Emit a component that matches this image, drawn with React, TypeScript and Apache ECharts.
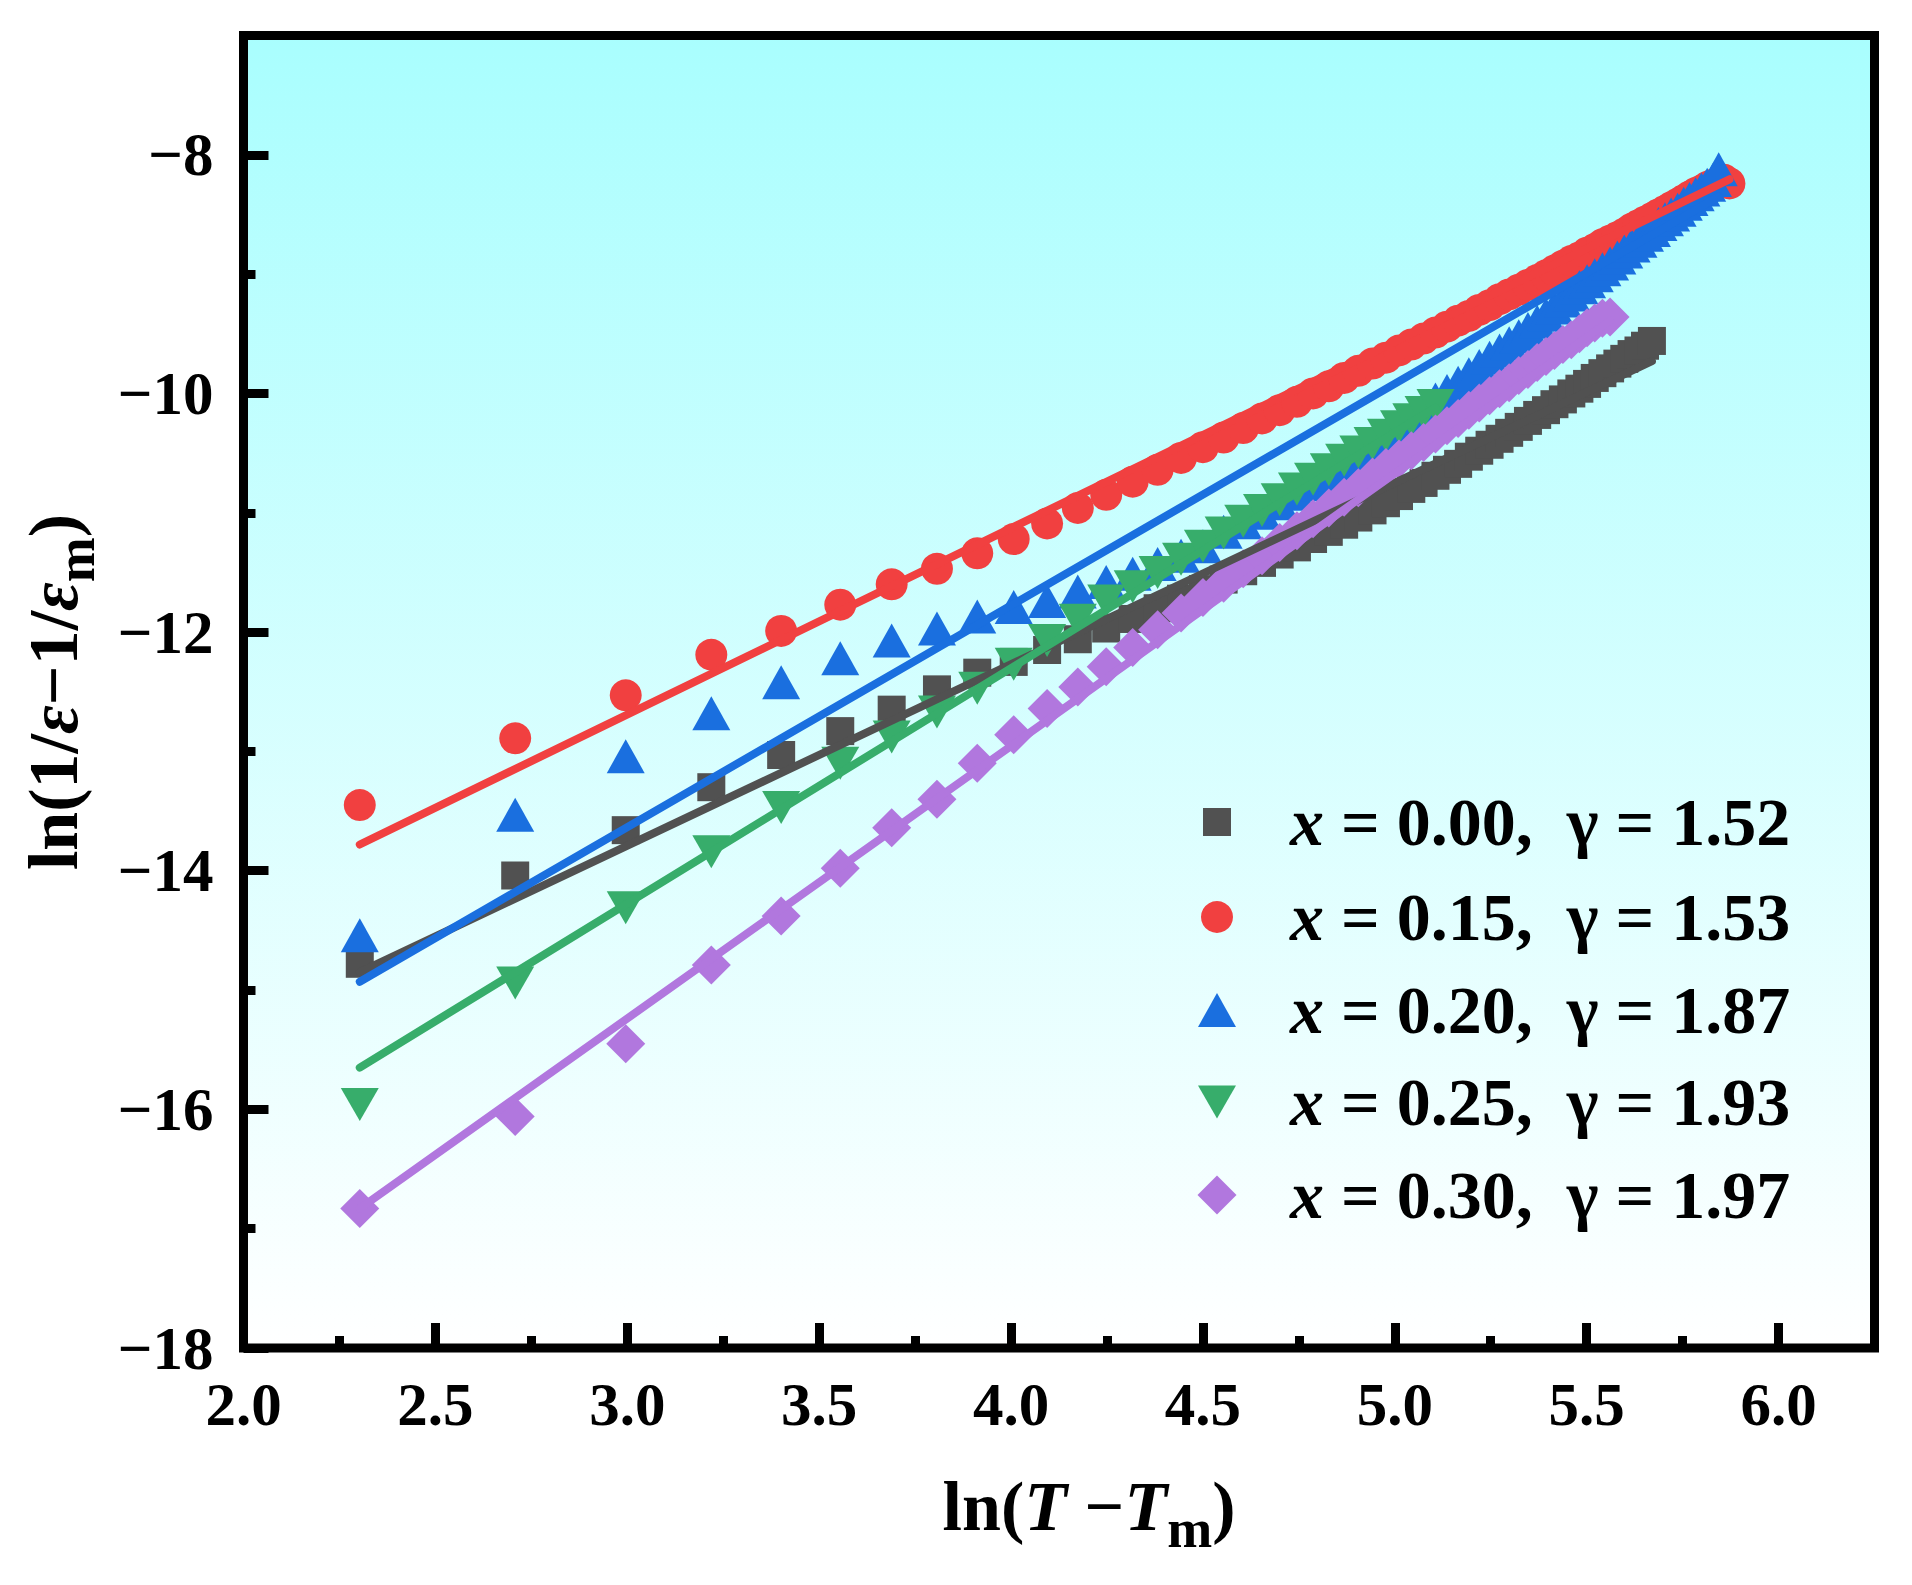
import { useEffect, useRef } from 'react';
import * as echarts from 'echarts';

// ln(T - Tm) for T - Tm = 10, 15, 20 ... 355 K
const lnDT = [
  2.303, 2.708, 2.996, 3.219, 3.401, 3.555, 3.689, 3.807, 3.912, 4.007,
  4.094, 4.174, 4.248, 4.317, 4.382, 4.443, 4.500, 4.554, 4.605, 4.654,
  4.700, 4.745, 4.787, 4.828, 4.868, 4.905, 4.942, 4.977, 5.011, 5.043,
  5.075, 5.106, 5.136, 5.165, 5.193, 5.220, 5.247, 5.273, 5.298, 5.323,
  5.347, 5.371, 5.394, 5.416, 5.438, 5.460, 5.481, 5.501, 5.521, 5.541,
  5.561, 5.580, 5.598, 5.617, 5.635, 5.652, 5.670, 5.687, 5.704, 5.720,
  5.737, 5.753, 5.768, 5.784, 5.799, 5.814, 5.829, 5.844, 5.858, 5.872,
];

const yX000 = [
  -14.78, -14.04, -13.66, -13.30, -13.03, -12.83, -12.65, -12.48, -12.34, -12.25,
  -12.15, -12.06, -11.97, -11.89, -11.80, -11.72, -11.64, -11.56, -11.49, -11.42,
  -11.35, -11.29, -11.22, -11.16, -11.10, -11.04, -10.98, -10.92, -10.86, -10.80,
  -10.75, -10.69, -10.64, -10.59, -10.53, -10.48, -10.43, -10.38, -10.33, -10.28,
  -10.23, -10.18, -10.14, -10.09, -10.05, -10.00, -9.96, -9.92, -9.87, -9.83,
  -9.79, -9.75, -9.71, -9.67, -9.64, -9.60, -9.56,
];

const yX015 = [
  -13.45, -12.89, -12.53, -12.19, -11.99, -11.77, -11.60, -11.47, -11.34, -11.22,
  -11.09, -10.96, -10.85, -10.74, -10.64, -10.54, -10.45, -10.37, -10.29, -10.21,
  -10.14, -10.07, -10.00, -9.94, -9.87, -9.81, -9.75, -9.70, -9.64, -9.59,
  -9.54, -9.49, -9.44, -9.39, -9.35, -9.30, -9.26, -9.21, -9.17, -9.13,
  -9.09, -9.05, -9.01, -8.97, -8.93, -8.89, -8.86, -8.82, -8.79, -8.75,
  -8.72, -8.69, -8.66, -8.62, -8.59, -8.56, -8.53, -8.50, -8.47, -8.44,
  -8.41, -8.38, -8.35, -8.32, -8.30, -8.27, -8.25, -8.23, -8.21, -8.24,
];

const yX020 = [
  -14.54, -13.53, -13.04, -12.68, -12.42, -12.22, -12.07, -11.97, -11.87, -11.79,
  -11.74, -11.66, -11.58, -11.51, -11.43, -11.36, -11.28, -11.16, -11.08, -11.00,
  -10.92, -10.84, -10.76, -10.68, -10.60, -10.52, -10.44, -10.36, -10.28, -10.20,
  -10.12, -10.05, -9.98, -9.91, -9.84, -9.77, -9.70, -9.64, -9.58, -9.52,
  -9.46, -9.40, -9.34, -9.28, -9.22, -9.17, -9.11, -9.06, -9.01, -8.96,
  -8.91, -8.86, -8.81, -8.76, -8.72, -8.67, -8.63, -8.58, -8.54, -8.50,
  -8.46, -8.41, -8.37, -8.33, -8.29, -8.25, -8.21, -8.12,
];

const yX025 = [
  -15.96, -14.94, -14.31, -13.84, -13.47, -13.10, -12.88, -12.67, -12.47, -12.27,
  -12.07, -11.90, -11.74, -11.62, -11.50, -11.39, -11.28, -11.17, -11.07, -10.98,
  -10.89, -10.80, -10.72, -10.64, -10.56, -10.49, -10.42, -10.35, -10.28, -10.22,
  -10.16, -10.10,
];

const yX030 = [
  -16.83, -16.06, -15.45, -14.79, -14.38, -13.98, -13.64, -13.40, -13.10, -12.86,
  -12.64, -12.46, -12.29, -12.13, -11.98, -11.84, -11.71, -11.59, -11.47, -11.36,
  -11.25, -11.15, -11.05, -10.96, -10.87, -10.79, -10.70, -10.62, -10.55, -10.48,
  -10.41, -10.34, -10.27, -10.21, -10.14, -10.08, -10.02, -9.96, -9.91, -9.85,
  -9.80, -9.74, -9.69, -9.64, -9.59, -9.55, -9.50, -9.45, -9.41, -9.37,
  -9.36,
];

// fitted straight lines (start / end points)
const fitX000 = [[2.303, -14.85], [5.670, -9.73]];
const fitX015 = [[2.303, -13.78], [5.872, -8.205]];
const fitX020 = [[2.303, -14.93], [5.844, -8.35]];
const fitX025 = [[2.303, -15.65], [5.106, -10.12]];
const fitX030 = [[2.303, -16.83], [5.561, -9.39]];

const compositions = ['0.00', '0.15', '0.20', '0.25', '0.30'];
const gammas = ['1.52', '1.53', '1.87', '1.93', '1.97'];

const xMajor = [2.0, 2.5, 3.0, 3.5, 4.0, 4.5, 5.0, 5.5, 6.0];
const xMinor = [2.25, 2.75, 3.25, 3.75, 4.25, 4.75, 5.25, 5.75];
const yMajor = [-18, -16, -14, -12, -10, -8];
const yMinor = [-17, -15, -13, -11, -9];

const FONT = 'Liberation Serif';
const colors = ['#515151', '#F14040', '#1A6FDF', '#37AD6B', '#B177DE'];
const symbols = ['rect', 'circle', 'triangle', 'triangle', 'diamond'];
const symbolSizes: any[] = [28, 32, [38, 34], [38, 33], [39, 39]];
const symbolRotates = [0, 0, 0, 180, 0];
const legendIcons = ['rect', 'circle', 'triangle', 'path://M0,0L38,0L19,33Z', 'diamond'];
const legendRowY = [824, 919, 1012, 1104, 1197];

export default function App() {
  const ref = useRef<HTMLDivElement>(null);

  useEffect(() => {
    if (!ref.current) return;
    const chart = echarts.init(ref.current, undefined, { renderer: 'svg' });

    const ys = [yX000, yX015, yX020, yX025, yX030];
    const fits = [fitX000, fitX015, fitX020, fitX025, fitX030];
    const names = compositions.map((c, i) => `x = ${c},  γ = ${gammas[i]}`);

    const series: any[] = [];
    ys.forEach((y, i) => {
      series.push({
        type: 'scatter',
        name: names[i],
        data: y.map((v, k) => [lnDT[k], v]),
        symbol: symbols[i],
        symbolSize: symbolSizes[i],
        symbolRotate: symbolRotates[i],
        itemStyle: { color: colors[i], opacity: 1 },
        silent: true,
      });
      series.push({
        type: 'line',
        name: 'fit' + i,
        data: fits[i],
        showSymbol: false,
        symbol: 'none',
        lineStyle: { color: colors[i], width: 8, cap: 'round' },
        silent: true,
      });
    });

    const textBase = { fontFamily: FONT, fontWeight: 'bold', fontSize: 68, color: '#000' };
    const legends = names.map((nm, i) => {
      const sz = symbolSizes[i];
      const w = Array.isArray(sz) ? sz[0] : sz;
      const h = Array.isArray(sz) ? sz[1] : sz;
      return {
        show: true,
        data: [{ name: nm, icon: legendIcons[i] }],
        orient: 'vertical',
        left: 1217 - w / 2,
        top: legendRowY[i] - 36,
        padding: 0,
        itemWidth: w,
        itemHeight: h,
        selectedMode: false,
        formatter: () => `{s| }{i|x}{n| = ${compositions[i]},  γ = ${gammas[i]}}`,
        textStyle: {
          ...textBase,
          rich: {
            s: { width: 1290 - (1217 - w / 2 + w + 5), fontSize: 10, lineHeight: 72 },
            i: { ...textBase, fontStyle: 'italic', lineHeight: 72 },
            n: { ...textBase, lineHeight: 72 },
          },
        },
      };
    });

    const axisLabelStyle = { fontFamily: FONT, fontWeight: 'bold', fontSize: 61, color: '#000' };
    const minusFmt = (v: number) => (v < 0 ? '\u2212' + Math.abs(v) : String(v));

    const titleRich = {
      n: { fontFamily: FONT, fontWeight: 'bold', fontSize: 70, lineHeight: 80, fill: '#000', color: '#000' },
      i: { fontFamily: FONT, fontWeight: 'bold', fontStyle: 'italic', fontSize: 70, lineHeight: 80, fill: '#000', color: '#000' },
      sub: { fontFamily: FONT, fontWeight: 'bold', fontSize: 54, lineHeight: 30, padding: [46, 0, 0, 0], fill: '#000', color: '#000' },
    };

    chart.setOption({
      animation: false,
      backgroundColor: '#ffffff',
      grid: {
        left: 243.5,
        top: 35.5,
        right: 37.5,
        bottom: 237,
        show: true,
        borderWidth: 9,
        borderColor: '#000',
        containLabel: false,
        outerBoundsMode: 'none',
        backgroundColor: new echarts.graphic.LinearGradient(0, 0, 0, 1, [
          { offset: 0, color: '#A9FEFE' },
          { offset: 1, color: '#FFFFFF' },
        ]),
      },
      xAxis: [
        {
          type: 'value',
          min: 2,
          max: 6.25,
          position: 'bottom',
          axisLine: { show: false },
          splitLine: { show: false },
          axisTick: { show: true, inside: true, length: 25, lineStyle: { color: '#000', width: 9 }, customValues: xMajor },
          axisLabel: { show: true, customValues: xMajor, formatter: (v: number) => v.toFixed(1), margin: 26, ...axisLabelStyle },
        },
        {
          type: 'value',
          min: 2,
          max: 6.25,
          position: 'bottom',
          axisLine: { show: false },
          splitLine: { show: false },
          axisTick: { show: true, inside: true, length: 12, lineStyle: { color: '#000', width: 9 }, customValues: xMinor },
          axisLabel: { show: false },
        },
      ],
      yAxis: [
        {
          type: 'value',
          min: -18,
          max: -7,
          position: 'left',
          axisLine: { show: false },
          splitLine: { show: false },
          axisTick: { show: true, inside: true, length: 25, lineStyle: { color: '#000', width: 9 }, customValues: yMajor },
          axisLabel: { show: true, customValues: yMajor, formatter: minusFmt, margin: 30, ...axisLabelStyle },
        },
        {
          type: 'value',
          min: -18,
          max: -7,
          position: 'left',
          axisLine: { show: false },
          splitLine: { show: false },
          axisTick: { show: true, inside: true, length: 12, lineStyle: { color: '#000', width: 9 }, customValues: yMinor },
          axisLabel: { show: false },
        },
      ],
      legend: legends,
      series,
      graphic: [
        {
          type: 'text',
          x: 1089,
          y: 1506,
          style: {
            text: '{n|ln(}{i|T}{n| \u2212}{i|T}{sub|m}{n|)}',
            align: 'center',
            verticalAlign: 'middle',
            rich: titleRich,
          },
        },
        {
          type: 'text',
          x: 53,
          y: 692,
          rotation: Math.PI / 2,
          style: {
            text: '{n|ln(1/}{i|\u03b5}{n|\u22121/}{i|\u03b5}{sub|m}{n|)}',
            align: 'center',
            verticalAlign: 'middle',
            rich: titleRich,
          },
        },
      ],
    });

    return () => chart.dispose();
  }, []);

  return (
    <div
      ref={ref}
      style={{ position: 'absolute', left: 0, top: 0, width: 1912, height: 1585, background: '#fff' }}
    />
  );
}
